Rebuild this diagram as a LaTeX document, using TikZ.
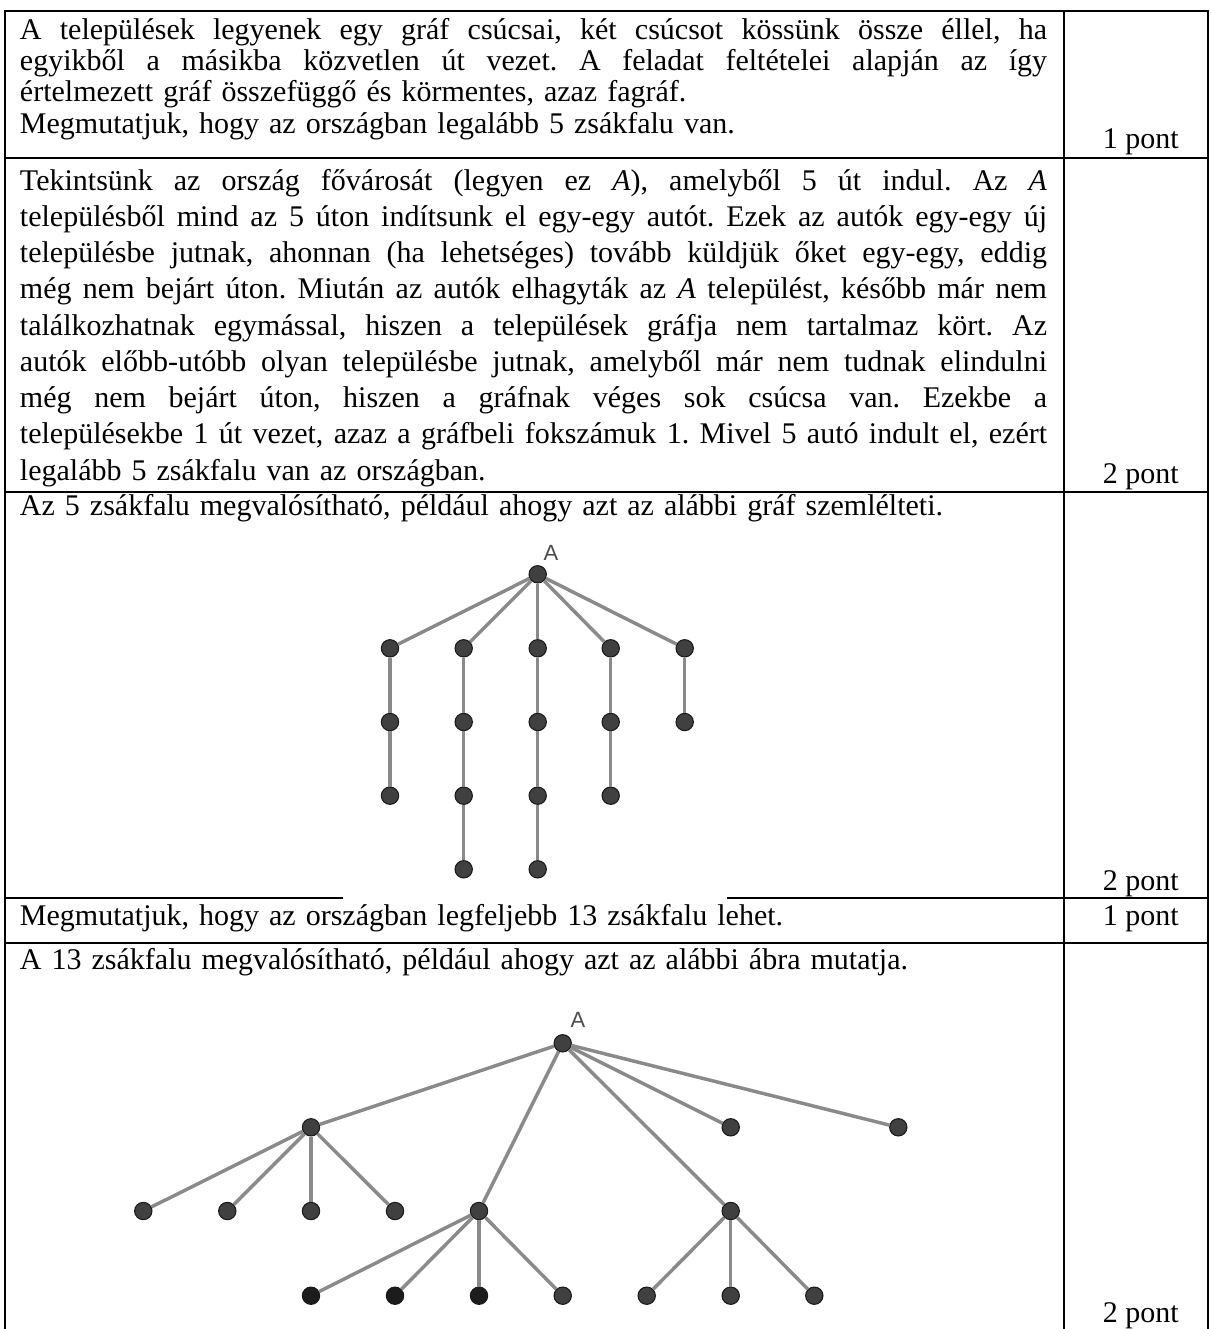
\documentclass[tikz,border=0pt]{standalone}
\usepackage{fontspec}
\setmainfont{Liberation Serif}
\newfontfamily\ggbfont{Liberation Sans}
\definecolor{vfill}{HTML}{404040}
\definecolor{vdark}{HTML}{1C1C1C}
\definecolor{vline}{HTML}{1A1A1A}
\definecolor{edgegray}{HTML}{8A8A8A}
\definecolor{labgray}{HTML}{4D4D4D}
\newlength\tw
\setlength\tw{770.25pt}
\newcommand\jline[1]{\leavevmode\hbox to \tw{\spaceskip=\fontdimen2\font plus 1fil minus \fontdimen4\font\relax\xspaceskip=\spaceskip #1}}
\begin{document}
\begin{tikzpicture}[x=0.75pt,y=-0.75pt,
  rule/.style={line width=1.5pt, black},
  para/.style={anchor=base west, inner sep=0pt, outer sep=0pt, text width=\tw, align=left},
  pts/.style={anchor=base east, inner sep=0pt, font=\fontsize{22.5}{23.5}\selectfont},
  vx/.style={circle, inner sep=0pt, minimum size=13pt, fill=vfill, draw=vline, line width=0.8pt},
  vxd/.style={vx, fill=vdark},
  ed/.style={draw=edgegray, line width=2.6pt},
  lab/.style={font=\ggbfont\fontsize{16.5}{18}\selectfont, text=labgray, anchor=base, inner sep=0pt}]
\useasboundingbox (0,0) rectangle (1211,1329);
\fill[white] (0,0) rectangle (1211,1329);

% table rules
\draw[rule] (5,11) -- (1208,11);
\draw[rule] (5,158) -- (1208,158);
\draw[rule] (5,492) -- (1208,492);
\draw[rule] (5,898) -- (343,898);
\draw[rule] (727,898) -- (1208,898);
\draw[rule] (5,943) -- (1208,943);
\draw[rule] (5,10.25) -- (5,1329);
\draw[rule] (1064,10.25) -- (1064,1329);
\draw[rule] (1208,10.25) -- (1208,1329);

% row 1
\node[para, font=\fontsize{22.5}{23.5}\selectfont\frenchspacing] (t1) at (20,39) {\jline{A települések legyenek egy gráf csúcsai, két csúcsot kössünk össze éllel, ha}\\
\jline{egyikből a másikba közvetlen út vezet. A feladat feltételei alapján az így}\\
értelmezett gráf összefüggő és körmentes, azaz fagráf.\\
Megmutatjuk, hogy az országban legalább 5 zsákfalu van.};
\node[pts] (p1) at (1179,148) {1 pont};

% row 2
\node[para, font=\fontsize{22.5}{27.19}\selectfont\frenchspacing] (t2) at (20,190) {\jline{Tekintsünk az ország fővárosát (legyen ez \textit{A}), amelyből 5 út indul. Az \textit{A}}\\
\jline{településből mind az 5 úton indítsunk el egy-egy autót. Ezek az autók egy-egy új}\\
\jline{településbe jutnak, ahonnan (ha lehetséges) tovább küldjük őket egy-egy, eddig}\\
\jline{még nem bejárt úton. Miután az autók elhagyták az \textit{A} települést, később már nem}\\
\jline{találkozhatnak egymással, hiszen a települések gráfja nem tartalmaz kört. Az}\\
\jline{autók előbb-utóbb olyan településbe jutnak, amelyből már nem tudnak elindulni}\\
\jline{még nem bejárt úton, hiszen a gráfnak véges sok csúcsa van. Ezekbe a}\\
\jline{településekbe 1 út vezet, azaz a gráfbeli fokszámuk 1. Mivel 5 autó indult el, ezért}\\
legalább 5 zsákfalu van az országban.};
\node[pts] (p2) at (1179,483) {2 pont};

% row 3
\node[para, font=\fontsize{22.5}{23.5}\selectfont\frenchspacing] (t3) at (20,515) {Az 5 zsákfalu megvalósítható, például ahogy azt az alábbi gráf szemlélteti.};
\node[pts] (p3) at (1179,890) {2 pont};

% row 4
\node[para, font=\fontsize{22.5}{23.5}\selectfont\frenchspacing] (t4) at (20,925) {Megmutatjuk, hogy az országban legfeljebb 13 zsákfalu lehet.};
\node[pts] (p4) at (1179,925) {1 pont};

% row 5
\node[para, font=\fontsize{22.5}{23.5}\selectfont\frenchspacing] (t5) at (20,969) {A 13 zsákfalu megvalósítható, például ahogy azt az alábbi ábra mutatja.};
\node[pts] (p5) at (1179,1322) {2 pont};

% graph 1
\node[vx] (a) at (537.7,574.3) {};
\node[lab] (al) at (551,560.7) {A};
\foreach \c/\x/\n in {1/390/3, 2/463.7/4, 3/537.7/4, 4/610.7/3, 5/684.7/2} {
  \node[vx] (c\c r1) at (\x,648.3) {};
  \draw[ed] (a) -- (c\c r1);
  \ifnum\n>1 \node[vx] (c\c r2) at (\x,722) {}; \draw[ed] (c\c r1) -- (c\c r2); \fi
  \ifnum\n>2 \node[vx] (c\c r3) at (\x,795.7) {}; \draw[ed] (c\c r2) -- (c\c r3); \fi
  \ifnum\n>3 \node[vx] (c\c r4) at (\x,869.3) {}; \draw[ed] (c\c r3) -- (c\c r4); \fi
}

% graph 2
\node[vx] (b) at (562.7,1043.3) {};
\node[lab] (bl) at (578,1027) {A};
\node[vx] (h1) at (311,1127.3) {};
\node[vx] (k1) at (730.7,1127.3) {};
\node[vx] (k2) at (898.3,1127.3) {};
\node[vx] (h2) at (479,1211) {};
\node[vx] (h3) at (730.7,1211) {};
\draw[ed] (b) -- (h1);
\draw[ed] (b) -- (h2);
\draw[ed] (b) -- (h3);
\draw[ed] (b) -- (k1);
\draw[ed] (b) -- (k2);
\foreach \i/\x in {1/143.3, 2/227.3, 3/311, 4/395} {
  \node[vx] (l\i) at (\x,1211) {};
  \draw[ed] (h1) -- (l\i);
}
\foreach \i/\x in {1/311, 2/395, 3/479} {
  \node[vxd] (m\i) at (\x,1295.7) {};
  \draw[ed] (h2) -- (m\i);
}
\node[vx] (m4) at (562.7,1295.7) {};
\draw[ed] (h2) -- (m4);
\foreach \i/\x in {1/646.7, 2/730.7, 3/814.3} {
  \node[vx] (n\i) at (\x,1295.7) {};
  \draw[ed] (h3) -- (n\i);
}
\end{tikzpicture}
\end{document}
